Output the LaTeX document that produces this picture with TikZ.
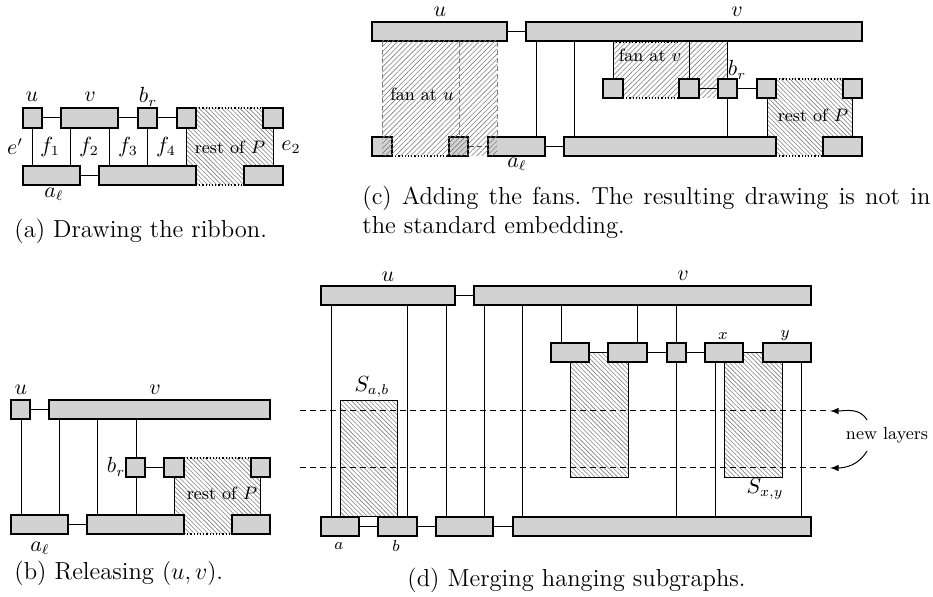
\documentclass[tikz,border=0pt]{standalone}
\usepackage{amsmath,amssymb}
\usepackage{xcolor}
\usepackage{tikz}
\usetikzlibrary{arrows}
\usetikzlibrary{fit}
\usetikzlibrary{patterns.meta}

\tikzset{
    vbox/.style = {draw, line width = 0.7pt, fill = gray!35, inner sep = 0pt},
    link/.style = {line width = 0.5pt},
    fanlink/.style = {line width = 0.5pt, gray, dash pattern = on 2.5pt off 1.5pt},
    rim/.style = {line width = 0.6pt, dash pattern = on 0.6pt off 1pt},
    layer/.style = {line width = 0.5pt, dash pattern = on 3pt off 2pt},
    restfill/.style = {pattern = {Lines[angle = -45, distance = 1.6pt, line width = 0.3pt]}, pattern color = gray},
    fanfill/.style = {pattern = {Lines[angle = 45, distance = 1.8pt, line width = 0.3pt]}, pattern color = gray},
    mlabel/.style = {inner sep = 0pt, font = \fontsize{10.5}{12}\selectfont},
    slabel/.style = {inner sep = 0pt, font = \fontsize{8.5}{10}\selectfont},
    tlabel/.style = {inner sep = 0pt, font = \fontsize{8.8}{10}\selectfont},
    subcap/.style = {inner sep = 0pt, anchor = base west, font = \fontsize{12.3}{14.8}\selectfont}
}
\newcommand{\vtx}[5]{\node[vbox, fit = {(#2, #3) (#4, #5)}] (#1) {};}

\begin{document}
\begin{tikzpicture}[x = 0.5pt, y = -0.5pt]
    \useasboundingbox (0, 0) rectangle (933, 597);

        \fill[restfill] (186, 108) rectangle (273, 185);
        \draw[rim] (196, 108) -- (263, 108);
        \draw[rim] (196, 185) -- (244, 185);
        \vtx{au}{23}{108}{42}{128}
        \vtx{av}{61}{108}{118}{128}
        \vtx{abr}{138}{108}{157}{128}
        \vtx{ad}{177}{108}{196}{128}
        \vtx{ae}{263}{108}{283}{128}
        \vtx{aal}{23}{166}{80}{185}
        \vtx{ab}{99}{166}{196}{185}
        \vtx{ac}{244}{166}{283}{185}
        \draw[link] (au) -- (av);
        \draw[link] (av) -- (abr);
        \draw[link] (abr) -- (ad);
        \draw[link] (aal) -- (ab);
        \draw[link] (au.south -| 32,0) -- (aal.north -| 32,0);
        \draw[link] (av.south -| 70,0) -- (aal.north -| 70,0);
        \draw[link] (av.south -| 109,0) -- (ab.north -| 109,0);
        \draw[link] (abr.south -| 147,0) -- (ab.north -| 147,0);
        \draw[link] (ad.south -| 186,0) -- (ab.north -| 186,0);
        \draw[link] (ae.south -| 273,0) -- (ac.north -| 273,0);
        \node[mlabel] (lau) at (32, 97) {$u$};
        \node[mlabel] (lav) at (90, 97) {$v$};
        \node[mlabel] (labr) at (148, 97) {$b_r$};
        \node[mlabel] (lae) at (15, 147) {$e'$};
        \node[mlabel] (laf1) at (50, 147) {$f_1$};
        \node[mlabel] (laf2) at (89, 147) {$f_2$};
        \node[mlabel] (laf3) at (128, 147) {$f_3$};
        \node[mlabel] (laf4) at (166, 147) {$f_4$};
        \node[tlabel] (larest) at (230, 147) {rest of $P$};
        \node[mlabel] (lae2) at (291, 147) {$e_2$};
        \node[mlabel] (laal) at (54, 194) {$a_\ell$};
        \node[subcap] (capa) at (14, 238) {(a) Drawing the ribbon.};

        \fill[restfill] (174, 458) rectangle (260, 534);
        \draw[rim] (184, 458) -- (251, 458);
        \draw[rim] (184, 534) -- (232, 534);
        \vtx{bu}{11}{400}{30}{419}
        \vtx{bv}{49}{400}{270}{419}
        \vtx{bbr}{126}{458}{145}{477}
        \vtx{bd}{164}{458}{184}{477}
        \vtx{be}{251}{458}{270}{477}
        \vtx{bal}{11}{515}{68}{534}
        \vtx{bb}{87}{515}{184}{534}
        \vtx{bc}{232}{515}{270}{534}
        \draw[link] (bu) -- (bv);
        \draw[link] (bbr) -- (bd);
        \draw[link] (bal) -- (bb);
        \draw[link] (bu.south -| 21,0) -- (bal.north -| 21,0);
        \draw[link] (bv.south -| 59,0) -- (bal.north -| 59,0);
        \draw[link] (bv.south -| 97,0) -- (bb.north -| 97,0);
        \draw[link] (bv.south -| 136,0) -- (bbr.north -| 136,0);
        \draw[link] (bbr.south -| 136,0) -- (bb.north -| 136,0);
        \draw[link] (bd.south -| 174,0) -- (bb.north -| 174,0);
        \draw[link] (be.south -| 260,0) -- (bc.north -| 260,0);
        \node[mlabel] (lbu) at (21, 390) {$u$};
        \node[mlabel] (lbv) at (155, 390) {$v$};
        \node[mlabel] (lbbr) at (116, 467) {$b_r$};
        \node[tlabel] (lbrest) at (222, 493) {rest of $P$};
        \node[mlabel] (lbal) at (40, 548) {$a_\ell$};
        \node[subcap] (capb) at (14, 580) {(b) Releasing $(u, v)$.};

        \fill[fanfill] (613, 41) rectangle (727, 98);
        \fill[restfill] (767, 79) rectangle (852, 156);
        \draw[rim] (613, 42) -- (679, 42);
        \draw[rim] (623, 98) -- (679, 98);
        \draw[rim] (776, 79) -- (843, 79);
        \draw[rim] (776, 156) -- (823, 156);
        \draw[rim] (392, 156) -- (449, 156);
        \vtx{cu}{372}{22}{507}{41}
        \vtx{cv}{526}{22}{862}{41}
        \vtx{cA}{603}{79}{623}{98}
        \vtx{cB}{679}{79}{699}{98}
        \vtx{cbr}{718}{79}{737}{98}
        \vtx{cD}{757}{79}{776}{98}
        \vtx{cE}{843}{79}{862}{98}
        \vtx{cp}{372}{137}{392}{156}
        \vtx{cq}{449}{137}{468}{156}
        \vtx{cal}{488}{137}{545}{156}
        \vtx{cb}{564}{137}{776}{156}
        \vtx{cc}{823}{137}{862}{156}
        \fill[fanfill] (382, 41) rectangle (497, 156);
        \draw[link] (cu) -- (cv);
        \draw[link] (cB) -- (cbr);
        \draw[link] (cbr) -- (cD);
        \draw[link] (cal) -- (cb);
        \draw[fanlink, black!70] (cq) -- (cal);
        \draw[fanlink] (cu.south -| 382,0) -- (cp.north -| 382,0);
        \draw[fanlink] (cu.south -| 459,0) -- (cq.north -| 459,0);
        \draw[fanlink] (cu.south -| 497,0) -- (cal.north -| 497,0);
        \draw[link] (cv.south -| 536,0) -- (cal.north -| 536,0);
        \draw[link] (cv.south -| 574,0) -- (cb.north -| 574,0);
        \draw[link] (cv.south -| 613,0) -- (cA.north -| 613,0);
        \draw[link] (cv.south -| 689,0) -- (cB.north -| 689,0);
        \draw[link] (cv.south -| 727,0) -- (cbr.north -| 727,0);
        \draw[link] (cbr.south -| 727,0) -- (cb.north -| 727,0);
        \draw[link] (cD.south -| 767,0) -- (cb.north -| 767,0);
        \draw[link] (cE.south -| 852,0) -- (cc.north -| 852,0);
        \node[mlabel] (lcu) at (440, 12) {$u$};
        \node[mlabel] (lcv) at (737, 12) {$v$};
        \node[mlabel] (lcbr) at (737, 70) {$b_r$};
        \node[tlabel] (lcfu) at (422, 94) {fan at $u$};
        \node[tlabel] (lcfv) at (650, 55) {fan at $v$};
        \node[tlabel] (lcrest) at (813, 115) {rest of $P$};
        \node[mlabel] (lcal) at (517, 164) {$a_\ell$};
        \node[subcap] (capc) at (362, 205) {\frenchspacing\makebox[284pt][s]{(c) Adding the fans. The resulting drawing is not in}};
        \node[subcap] (capc2) at (362, 234) {the standard embedding.};

        \draw[restfill, line width = 0.5pt] (340, 401) rectangle (397, 517);
        \draw[restfill, line width = 0.5pt] (570, 353) rectangle (628, 478);
        \draw[restfill, line width = 0.5pt] (724, 353) rectangle (782, 478);
        \vtx{du}{321}{286}{455}{305}
        \vtx{dv}{474}{286}{811}{305}
        \vtx{dA}{551}{343}{589}{362}
        \vtx{dB}{608}{343}{647}{362}
        \vtx{dC}{667}{343}{686}{362}
        \vtx{dx}{705}{343}{743}{362}
        \vtx{dy}{763}{343}{811}{362}
        \vtx{da}{321}{517}{359}{536}
        \vtx{db}{378}{517}{417}{536}
        \vtx{dc}{436}{517}{493}{536}
        \vtx{dd}{513}{517}{811}{536}
        \draw[link] (du) -- (dv);
        \draw[link] (dA) -- (dB);
        \draw[link] (dB) -- (dC);
        \draw[link] (dC) -- (dx);
        \draw[link] (dx) -- (dy);
        \draw[link] (da) -- (db);
        \draw[link] (db) -- (dc);
        \draw[link] (dc) -- (dd);
        \draw[link] (du.south -| 331,0) -- (da.north -| 331,0);
        \draw[link] (du.south -| 407,0) -- (db.north -| 407,0);
        \draw[link] (du.south -| 446,0) -- (dc.north -| 446,0);
        \draw[link] (dv.south -| 484,0) -- (dc.north -| 484,0);
        \draw[link] (dv.south -| 522,0) -- (dd.north -| 522,0);
        \draw[link] (dv.south -| 561,0) -- (dA.north -| 561,0);
        \draw[link] (dv.south -| 637,0) -- (dB.north -| 637,0);
        \draw[link] (dv.south -| 676,0) -- (dC.north -| 676,0);
        \draw[link] (dC.south -| 676,0) -- (dd.north -| 676,0);
        \draw[link] (dx.south -| 715,0) -- (dd.north -| 715,0);
        \draw[link] (dy.south -| 801,0) -- (dd.north -| 801,0);
        \coordinate (lyr1a) at (300, 411);
        \coordinate (lyr1b) at (830, 411);
        \coordinate (lyr2a) at (300, 468);
        \coordinate (lyr2b) at (830, 468);
        \draw[layer] (lyr1a) -- (lyr1b);
        \draw[layer] (lyr2a) -- (lyr2b);
        \node[tlabel] (lnew) at (887, 435) {new layers};
        \coordinate (arr1) at (867, 420);
        \coordinate (arr2) at (867, 451);
        \draw[link, -latex] (arr1) to[out = 120, in = 0] (lyr1b);
        \draw[link, -latex] (arr2) to[out = -120, in = 0] (lyr2b);
        \node[mlabel] (ldu) at (388, 277) {$u$};
        \node[mlabel] (ldv) at (683, 276) {$v$};
        \node[slabel] (ldx) at (723, 336) {$x$};
        \node[slabel] (ldy) at (785, 336) {$y$};
        \node[mlabel] (ldsab) at (372, 387) {$S_{a,b}$};
        \node[mlabel] (ldsxy) at (765, 489) {$S_{x,y}$};
        \node[slabel] (lda) at (339, 546) {$a$};
        \node[slabel] (ldb) at (396, 546) {$b$};
        \node[subcap] (capd) at (407, 587) {(d) Merging hanging subgraphs.};
\end{tikzpicture}
\end{document}
